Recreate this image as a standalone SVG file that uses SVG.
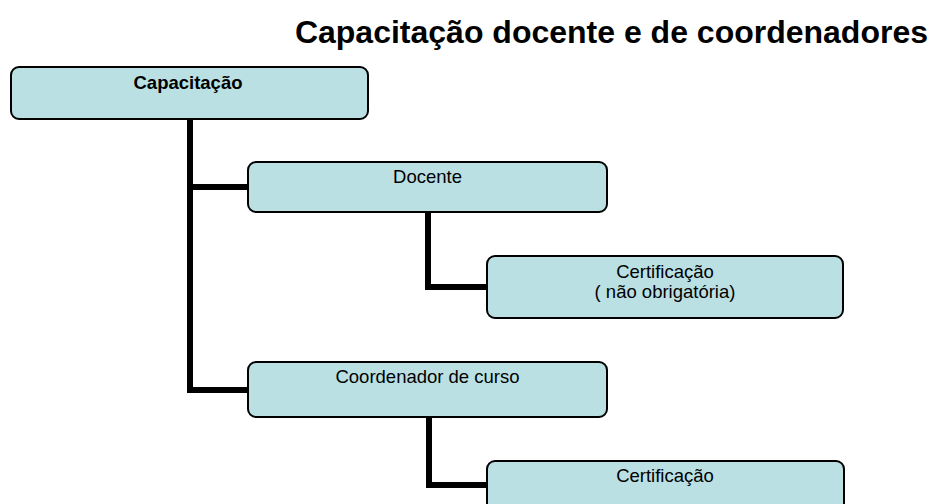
<svg xmlns="http://www.w3.org/2000/svg" width="932" height="504" viewBox="0 0 932 504">
<style>
.box{fill:#BAE0E3;stroke:#000;stroke-width:2}
.lbl{font-family:"Liberation Sans",Arial,sans-serif;font-size:18.5px;fill:#000;text-anchor:middle}
.b{font-weight:bold}
.conn{fill:none;stroke:#000;stroke-width:6;stroke-linejoin:miter;stroke-linecap:butt}
.title{font-family:"Liberation Sans",Arial,sans-serif;font-size:32px;font-weight:bold;fill:#000;text-anchor:end}
</style>
<rect width="932" height="504" fill="#fff"/>
<text class="title" x="928" y="43">Capacitação docente e de coordenadores</text>
<g id="connectors">
<path class="conn" d="M190,119 V390 H248"/>
<path class="conn" d="M190,187 H248"/>
<path class="conn" d="M428,212 V287 H487"/>
<path class="conn" d="M429,417 V485 H487"/>
</g>
<g id="capacitacao">
<rect class="box" x="11" y="67" width="357" height="52" rx="8"/>
<text class="lbl b" x="188" y="89">Capacitação</text>
</g>
<g id="docente">
<rect class="box" x="248" y="162" width="359" height="50" rx="8"/>
<text class="lbl" x="427.5" y="183">Docente</text>
</g>
<g id="certificacao1">
<rect class="box" x="487" y="256" width="356" height="62" rx="8"/>
<text class="lbl" x="665" y="278">Certificação</text>
<text class="lbl" x="665" y="298">( não obrigatória)</text>
</g>
<g id="coordenador">
<rect class="box" x="248" y="362" width="359" height="55" rx="8"/>
<text class="lbl" x="427.5" y="383">Coordenador de curso</text>
</g>
<g id="certificacao2">
<rect class="box" x="487" y="461" width="357" height="60" rx="8"/>
<text class="lbl" x="665" y="482">Certificação</text>
</g>
</svg>
